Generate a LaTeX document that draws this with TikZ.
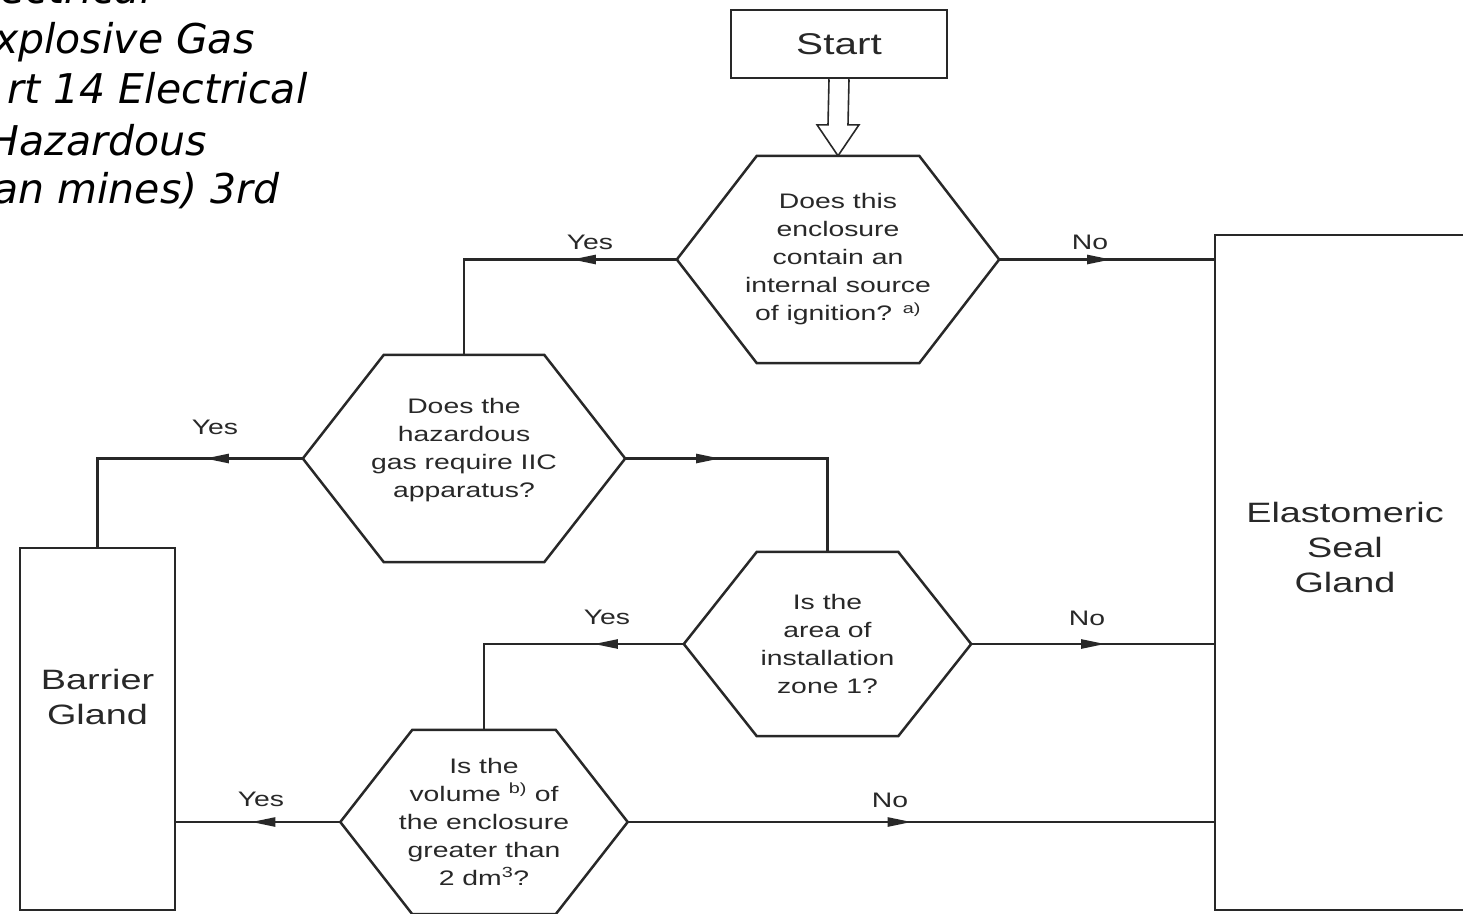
\documentclass[tikz,border=0pt]{standalone}
\usepackage{fontspec}
\setmainfont{Liberation Sans}[FakeStretch=1.35]
\newfontfamily\notefont{DejaVu Sans}
\usepackage{xcolor}
\usepackage{tikz}
\usetikzlibrary{arrows.meta,positioning,calc,decorations.markings}
\definecolor{flowink}{RGB}{40,40,40}

\tikzset{
  question/.style={minimum width=322pt, minimum height=207pt, inner sep=0pt,
    align=center, font=\fontsize{21}{28}\selectfont},
  smallquestion/.style={question, minimum width=287pt, minimum height=184pt},
  gland/.style={draw, line width=2.6pt, inner sep=0pt},
  glandtext/.style={align=center, font=\fontsize{28}{35}\selectfont},
  answer/.style={font=\fontsize{21}{24}\selectfont},
  note/.style={anchor=base east, text=black, font=\notefont\itshape\fontsize{41}{48}\selectfont},
  flow/.style={line width=2.4pt},
  tipat/.style={postaction={decorate}, decoration={markings,
    mark=at position #1 with {\arrow{Triangle[length=24pt,width=9pt]}}}},
}

% hexagon drawn round a question node
\newcommand{\hexframe}[2]{%
  \draw[line width=2.5pt] (#1.west) -- ($(#1.north west)+(#2,0)$) -- ($(#1.north east)-(#2,0)$)
    -- (#1.east) -- ($(#1.south east)-(#2,0)$) -- ($(#1.south west)+(#2,0)$) -- cycle;}

\begin{document}
\begin{tikzpicture}[x=1pt, y=-1pt, color=flowink]
    \useasboundingbox (0,0) rectangle (1463,913);
    \clip (0,0) rectangle (1463,913);

    % Cut-off note
    \node[note] (note1) at (155,3) {ectrical};
    \node[note] (note2) at (258,53) {xplosive Gas};
    \node[note] (note3) at (311,103) {rt 14 Electrical};
    \node[note] (note4) at (210,155) {Hazardous};
    \node[note] (note5) at (283,203) {an mines) 3rd};

    % Start
    \node[draw, line width=2.5pt, minimum width=216pt, minimum height=68pt,
      font=\fontsize{30}{36}\selectfont] (start) at (839,44) {Start};

    % Questions
    \node[question] (q1) at (838,259.5) {Does this\\enclosure\\contain an\\internal source\\of ignition? \textsuperscript{a)}};
    \hexframe{q1}{80}
    \node[question] (q2) at (464,458.5) {Does the\\hazardous\\gas require IIC\\apparatus?\\[-6pt]};
    \hexframe{q2}{81}
    \node[smallquestion] (q3) at (827.5,644) {Is the\\area of\\installation\\zone 1?};
    \hexframe{q3}{73}
    \node[smallquestion] (q4) at (484,822) {Is the\\volume \textsuperscript{b)} of\\the enclosure\\greater than\\2 dm\textsuperscript{3}?};
    \hexframe{q4}{72}

    % Glands
    \node[gland, minimum width=155pt, minimum height=362pt] (barrier) at (97.5,729) {};
    \node[glandtext] (barriertext) at (97.5,697) {Barrier\\Gland};
    \node[gland, minimum width=260pt, minimum height=675pt] (seal) at (1345,572.5) {};
    \node[glandtext] (sealtext) at (1345,547) {Elastomeric\\Seal\\Gland};

    % Hollow arrow from Start
    \draw[line width=1.6pt, fill=white] ($(start.south)+(-10,0)$) -- ($(q1.north)+(-10,-31)$)
      -- ($(q1.north)+(-21,-31)$) -- (q1.north) -- ($(q1.north)+(21,-31)$)
      -- ($(q1.north)+(10,-31)$) -- ($(start.south)+(10,0)$);

    % Connectors
    \draw[flow, tipat=105pt] (q1.west) -| (q2.north);
    \draw[flow, tipat=112pt] (q1.east) -- (q1.east -| seal.west);
    \draw[flow, tipat=98pt] (q2.west) -| (barrier.north);
    \draw[flow, tipat=95pt] (q2.east) -| (q3.north);
    \draw[flow, tipat=90pt] (q3.west) -| (q4.north);
    \draw[flow, tipat=134pt] (q3.east) -- (q3.east -| seal.west);
    \draw[flow, tipat=89pt] (q4.west) -- (q4.west -| barrier.east);
    \draw[flow, tipat=284pt] (q4.east) -- (q4.east -| seal.west);

    % Answers
    \node[answer] (yes1) at (590,242) {Yes};
    \node[answer] (no1) at (1090,242) {No};
    \node[answer] (yes2) at (215,427) {Yes};
    \node[answer] (yes3) at (607,617) {Yes};
    \node[answer] (no2) at (1087,618) {No};
    \node[answer] (yes4) at (261,799) {Yes};
    \node[answer] (no3) at (890,800) {No};
\end{tikzpicture}
\end{document}
